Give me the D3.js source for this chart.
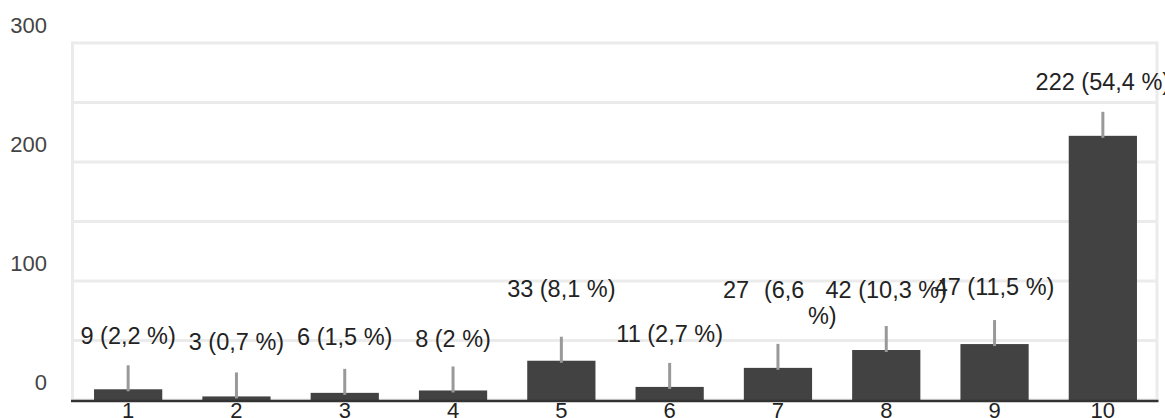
<!DOCTYPE html>
<html>
<head>
<meta charset="utf-8">
<script src="https://cdn.jsdelivr.net/npm/d3@7"></script>
<style>
  html, body { margin: 0; padding: 0; background: #fff; overflow: hidden; }
  svg { display: block; font-family: "Liberation Sans", Arial, sans-serif; }
</style>
</head>
<body>
<svg id="chart" width="1165" height="418"></svg>
<script>
// ---- data ----
const categories = ["1", "2", "3", "4", "5", "6", "7", "8", "9", "10"];
const counts = [9, 3, 6, 8, 33, 11, 27, 42, 47, 222];
const percents = ["2,2", "0,7", "1,5", "2", "8,1", "2,7", "6,6", "10,3", "11,5", "54,4"];
const yLabelTicks = [0, 100, 200, 300];
const gridTicks = [0, 50, 100, 150, 200, 250, 300];

// ---- layout (not data) ----
const W = 1165, H = 418;
const plot = { left: 74, right: 1157, top: 43, bottom: 400 };
// how far each annotation label sits above its stem top (px), mimicking the reference's collision avoidance
const labelLift = [30, 31, 32, 28, 48, 29, 54, 36, 34, 30];

const svg = d3.select("#chart");

const x = d3.scaleBand()
  .domain(categories)
  .range([plot.left, plot.right])
  .paddingInner(0.37)
  .paddingOuter(0.185);

const y = d3.scaleLinear()
  .domain([0, 300])
  .range([plot.bottom, plot.top]);

// grid lines
svg.append("g")
  .selectAll("line")
  .data(gridTicks)
  .join("line")
  .attr("x1", plot.left - 1.5)
  .attr("x2", plot.right)
  .attr("y1", d => y(d))
  .attr("y2", d => y(d))
  .attr("stroke", "#ebebeb")
  .attr("stroke-width", 3);

// left and right frame lines
svg.append("g")
  .selectAll("line")
  .data([plot.left - 1.5, plot.right])
  .join("line")
  .attr("x1", d => d).attr("x2", d => d)
  .attr("y1", y(300) - 1.5).attr("y2", plot.bottom)
  .attr("stroke", "#ebebeb")
  .attr("stroke-width", 3);

// y labels
svg.append("g")
  .selectAll("text")
  .data(yLabelTicks)
  .join("text")
  .attr("x", 47)
  .attr("y", d => y(d) - 10.5)
  .attr("text-anchor", "end")
  .attr("font-size", 22)
  .attr("fill", "#444")
  .text(d => d);

const data = categories.map((c, i) => ({ c, v: counts[i], p: percents[i], i }));

// bars
svg.append("g")
  .selectAll("rect")
  .data(data)
  .join("rect")
  .attr("x", d => x(d.c))
  .attr("y", d => y(d.v))
  .attr("width", x.bandwidth())
  .attr("height", d => y(0) - y(d.v))
  .attr("fill", "#424242");

// baseline
svg.append("line")
  .attr("x1", plot.left - 3)
  .attr("x2", plot.right + 1.5)
  .attr("y1", plot.bottom + 1)
  .attr("y2", plot.bottom + 1)
  .attr("stroke", "#333")
  .attr("stroke-width", 2.5);

// x labels
svg.append("g")
  .selectAll("text")
  .data(data)
  .join("text")
  .attr("x", d => x(d.c) + x.bandwidth() / 2)
  .attr("y", 418)
  .attr("text-anchor", "middle")
  .attr("font-size", 22)
  .attr("fill", "#222")
  .text(d => d.c);

// annotation stems
const stemLen = 24;
svg.append("g")
  .selectAll("line")
  .data(data)
  .join("line")
  .attr("x1", d => x(d.c) + x.bandwidth() / 2)
  .attr("x2", d => x(d.c) + x.bandwidth() / 2)
  .attr("y1", d => y(d.v) + 2)
  .attr("y2", d => y(d.v) - stemLen)
  .attr("stroke", "#999")
  .attr("stroke-width", 3);

// annotation labels
const lab = svg.append("g")
  .attr("font-size", 23.5)
  .attr("fill", "#222");

data.forEach(d => {
  const cx = x(d.c) + x.bandwidth() / 2;
  const cy = y(d.v) - stemLen - labelLift[d.i];
  const full = `${d.v} (${d.p} %)`;
  const t = lab.append("text")
    .attr("y", cy)
    .attr("dy", "0.36em");
  if (d.c === "7") {
    // wrapped label as in the reference
    t.attr("text-anchor", "start");
    t.append("tspan").attr("x", cx - 55).text(`${d.v}`);
    t.append("tspan").attr("x", cx - 14).text(`(${d.p}`);
    t.append("tspan").attr("x", cx + 30).attr("y", cy + 26).attr("dy", "0.36em").text("%)");
  } else {
    t.attr("x", cx).attr("text-anchor", "middle").text(full);
  }
});
</script>
</body>
</html>
